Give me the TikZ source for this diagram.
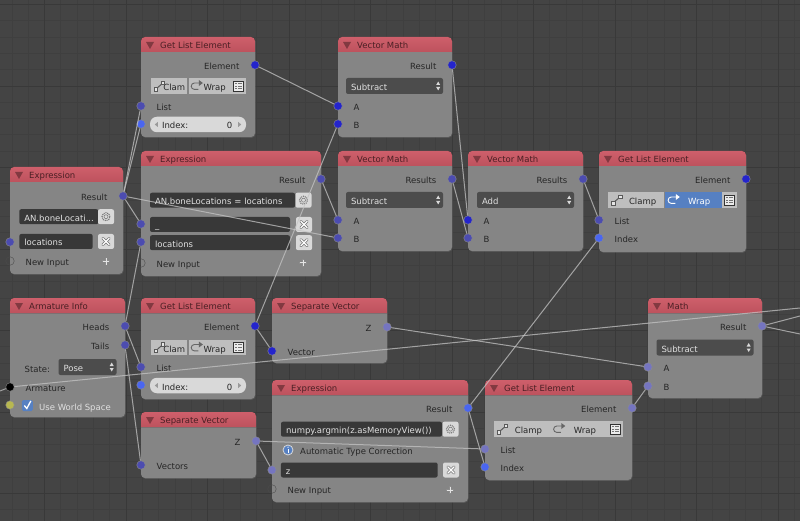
\documentclass[tikz,border=0pt]{standalone}
\usepackage{fontspec}
\setmainfont{DejaVu Sans}
\usepackage{tikz}
\usetikzlibrary{calc}
\usetikzlibrary{fit}
\usetikzlibrary{positioning}
\usetikzlibrary{shadows}

\definecolor{canvas}{HTML}{444444}
\definecolor{gridminor}{HTML}{3F3F3F}
\definecolor{gridmajor}{HTML}{393939}
\definecolor{panelgray}{HTML}{858585}
\definecolor{fieldgray}{HTML}{383838}
\definecolor{dropgray}{HTML}{4C4C4C}
\definecolor{btngray}{HTML}{BEBEBE}
\definecolor{btnlight}{HTML}{D9D9D9}
\definecolor{selblue}{HTML}{5680C2}
\definecolor{labeltext}{HTML}{262626}
\definecolor{lighttext}{HTML}{E0E0E0}
\definecolor{titletop}{HTML}{CE5F6B}
\definecolor{titlelow}{HTML}{BD525D}
\definecolor{titletext}{HTML}{4A1F24}
\definecolor{sockvec}{HTML}{2424CC}
\definecolor{sockdull}{HTML}{4C4CB0}
\definecolor{sockint}{HTML}{4A66F0}
\definecolor{sockfloat}{HTML}{7575C0}
\definecolor{sockbool}{HTML}{B8B850}
\definecolor{linkgray}{HTML}{C4C4C4}

\tikzset{
  smallfont/.style={font=\fontsize{8.5}{9}\selectfont},
  panel/.style={fit={#1},inner sep=0pt,fill=panelgray,rounded corners=4pt,
    drop shadow={opacity=0.35,shadow xshift=0.6pt,shadow yshift=-0.8pt}},
  titlebar/.style={top color=titletop,bottom color=titlelow,rounded corners=4pt},
  paneltitle/.style={smallfont,inner sep=0pt,text=titletext,anchor=west,text height=8pt,text depth=0.5pt},
  titlemark/.style={fill=titletext,opacity=0.55},
  socktext/.style={smallfont,inner sep=0pt,text=labeltext,text height=9pt,text depth=0pt},
  sock/.style={circle,inner sep=0pt,minimum size=8.5pt,draw=black!45,line width=0.4pt},
  vecsock/.style={sock,fill=sockvec},
  dullsock/.style={sock,fill=sockdull},
  intsock/.style={sock,fill=sockint},
  floatsock/.style={sock,fill=sockfloat},
  emptysock/.style={sock,draw=black!70,fill=none},
  blacksock/.style={sock,fill=black},
  boolsock/.style={sock,fill=sockbool},
  fieldbox/.style={smallfont,fill=fieldgray,text=lighttext,rounded corners=2pt,inner xsep=5pt,inner ysep=0pt,
    minimum height=15pt,text width=#1,align=left,text height=9pt,text depth=0pt},
  dropbox/.style={fieldbox=#1,fill=dropgray,minimum height=16pt},
  iconbtn/.style={fill=btnlight,rounded corners=2pt,inner sep=0pt,minimum width=16pt,minimum height=15pt},
  togglebtn/.style={smallfont,fill=btngray,text=labeltext,inner ysep=0pt,minimum height=15.5pt,align=right,
    text height=9pt,text depth=0pt},
  slider/.style={smallfont,fill=btnlight,text=labeltext,rounded corners=7pt,inner xsep=12pt,inner ysep=0pt,
    minimum height=15.5pt,text width=72pt,align=left,text height=9pt,text depth=0pt},
  link/.style={draw=linkgray,line width=1pt,opacity=0.75},
  gearicon/.pic={
    \draw[black!55,line width=1.1pt,dash pattern=on 1pt off 0.9pt] (0,0) circle (4pt);
    \draw[black!55,line width=0.5pt] (0,0) circle (2pt);
  },
  crossicon/.pic={
    \draw[black!55,line width=2.6pt,line cap=round] (-3.2,-3.2) -- (3.2,3.2) (-3.2,3.2) -- (3.2,-3.2);
    \draw[white,line width=1.3pt,line cap=round] (-3.2,-3.2) -- (3.2,3.2) (-3.2,3.2) -- (3.2,-3.2);
  },
  plusicon/.pic={
    \draw[black!45,line width=2pt] (-3.8,0) -- (3.8,0) (0,-3.8) -- (0,3.8);
    \draw[white!90!black,line width=1pt] (-3.4,0) -- (3.4,0) (0,-3.4) -- (0,3.4);
  },
  clampicon/.pic={
    \draw[black!65,line width=0.5pt,fill=white!90!black] (-5.5,1.5) rectangle (-2,5);
    \draw[black!65,line width=0.5pt,fill=white!90!black] (1.5,-5) rectangle (5,-1.5);
    \draw[black!65,line width=1pt] (-2,1.5) -- (1.5,-1.5);
  },
  wrapline/.pic={
    \draw[#1,line width=0.9pt] (3,-3) -- (-2,-3) arc (90:270:3.2pt) -- (2,3.4);
    \fill[#1] (2.5,-6) -- (6.5,-3) -- (2.5,0) -- cycle;
  },
  listicon/.pic={
    \draw[black!80,line width=0.6pt,fill=white!92!black] (-5,-5) rectangle (5,5);
    \foreach \row in {-2.8,0,2.8} {
      \draw[black!55,line width=0.8pt] (-3.5,\row) -- (-1.7,\row) (-0.5,\row) -- (3.5,\row);
    }
  },
  updown/.pic={
    \fill[white!85!black] (-2,-1) -- (2,-1) -- (0,-4.5) -- cycle;
    \fill[white!85!black] (-2,1) -- (2,1) -- (0,4.5) -- cycle;
  },
  spinleft/.pic={\fill[black!40] (5,0) -- (8,-2.5) -- (8,2.5) -- cycle;},
  spinright/.pic={\fill[black!40] (-5,0) -- (-8,-2.5) -- (-8,2.5) -- cycle;},
}

\begin{document}
\begin{tikzpicture}[x=1pt,y=-1pt,node distance=11pt]
  \useasboundingbox (0,0) rectangle (800,521);
  \fill[canvas] (0,0) rectangle (800,521);

  % grid
  \foreach \i in {0,...,48} {
    \draw[gridminor,line width=0.8pt] ({11.9+16.3*\i},0) -- ({11.9+16.3*\i},521);
  }
  \foreach \i in {0,...,31} {
    \draw[gridminor,line width=0.8pt] (0,{4.5+16.3*\i}) -- (800,{4.5+16.3*\i});
  }
  \foreach \i in {0,...,9} {
    \draw[gridmajor,line width=0.9pt] ({44.5+81.5*\i},0) -- ({44.5+81.5*\i},521);
  }
  \foreach \i in {0,...,6} {
    \draw[gridmajor,line width=0.9pt] (0,{4.5+81.5*\i}) -- (800,{4.5+81.5*\i});
  }

  % panels
  \foreach \nm/\xa/\ya/\xb/\yb/\ttl in {
    gleA/141/37/255/137/Get List Element,
    exprB/141/151/321/276/Expression,
    exprA/10/167/123/274/Expression,
    vmA/338/37/452/137/Vector Math,
    vmB/338/151/452/251/Vector Math,
    vmC/468/151/583/251/Vector Math,
    gleD/599/151/746/252/Get List Element,
    arm/10/298/125/417/Armature Info,
    gleB/141/298/255/399/Get List Element,
    sepA/272/298/387/363/Separate Vector,
    sepB/141/412/256/478/Separate Vector,
    exprC/272/380/468/502/Expression,
    gleC/485/380/632/480/Get List Element,
    mth/648/298/762/398/Math} {
    \node[panel={(\xa,\ya) (\xb,\yb)}] (\nm) {};
    \fill[titlebar] (\xa,\ya+15) -- (\xa,\ya) -- (\xb,\ya) -- (\xb,\ya+15);
    \fill[titlemark] (\xa+5,\ya+5) -- (\xa+13,\ya+5) -- (\xa+9,\ya+12) -- cycle;
    \node[paneltitle] (\nm-title) at (\xa+19,\ya+8) {\ttl};
  }

  % Get List Element, top
  \node[vecsock] (gleAe) at (255,65) {};
  \node[socktext,left=of gleAe] (gleAetxt) {Element};
  \node[togglebtn,text width=32pt,inner xsep=1.8pt] (gleAc) at (169.2,86) {Clam};
  \node[togglebtn,text width=36pt,inner xsep=3.2pt] (gleAw) at (209.8,86) {Wrap\hspace*{2pt}};
  \node[fill=btngray,inner sep=0pt,minimum width=15pt,minimum height=15.5pt] (gleAb) at (238.5,86) {};
  \pic at (gleAc.west) [xshift=8.5pt] {clampicon};
  \pic at (gleAw.west) [xshift=8pt] {wrapline=black!60};
  \pic at (gleAb) {listicon};
  \node[dullsock] (gleAl) at (141,106) {};
  \node[socktext,right=of gleAl] (gleAltxt) {List};
  \node[intsock] (gleAi) at (141,124) {};
  \node[slider] (gleAs) at (198,124.5) {Index:};
  \node[socktext] (gleAv) at (229.5,124.5) {0};
  \pic at (gleAs.west) {spinleft};
  \pic at (gleAs.east) {spinright};

  % Expression, large
  \node[dullsock] (exprBr) at (321,179) {};
  \node[socktext,left=of exprBr] (exprBrtxt) {Result};
  \node[fieldbox=135pt] (exprBf) at (222.5,200.2) {AN.boneLocations = locations};
  \node[iconbtn] (exprBg) at (303.5,200.2) {};
  \pic at (exprBg) {gearicon};
  \node[dullsock] (exprBu) at (141,224) {};
  \node[fieldbox=130pt] (exprBa) at (220,224.5) {\_};
  \node[iconbtn] (exprBx) at (304,224.5) {};
  \pic at (exprBx) {crossicon};
  \node[dullsock] (exprBl) at (141,242) {};
  \node[fieldbox=130pt] (exprBb) at (220,242.7) {locations};
  \node[iconbtn] (exprBy) at (304,242.7) {};
  \pic at (exprBy) {crossicon};
  \node[emptysock] (exprBn) at (141,263) {};
  \node[socktext,right=of exprBn] (exprBntxt) {New Input};
  \node[inner sep=0pt,minimum size=8pt] (exprBp) at (303,263) {};
  \pic at (exprBp) {plusicon};

  % Expression, left
  \node[dullsock] (exprAr) at (123,196) {};
  \node[socktext,left=of exprAr] (exprArtxt) {Result};
  \node[fieldbox=69pt] (exprAf) at (58.8,216.7) {AN.boneLocati...};
  \node[iconbtn] (exprAg) at (106,216.7) {};
  \pic at (exprAg) {gearicon};
  \node[dullsock] (exprAl) at (10,242) {};
  \node[fieldbox=63.4pt] (exprAb) at (56,241.5) {locations};
  \node[iconbtn] (exprAy) at (106,241.5) {};
  \pic at (exprAy) {crossicon};
  \node[emptysock] (exprAn) at (10,261) {};
  \node[socktext,right=of exprAn] (exprAntxt) {New Input};
  \node[inner sep=0pt,minimum size=8pt] (exprAp) at (106,261.5) {};
  \pic at (exprAp) {plusicon};

  % Vector Math
  \node[vecsock] (vmAr) at (452,65) {};
  \node[socktext,left=of vmAr] (vmArtxt) {Result};
  \node[dropbox=87pt] (vmAo) at (394.5,86) {Subtract};
  \pic at (vmAo.east) [xshift=-5pt] {updown};
  \node[vecsock] (vmAa) at (338,106) {};
  \node[socktext,right=of vmAa] (vmAatxt) {A};
  \node[vecsock] (vmAb) at (338,124) {};
  \node[socktext,right=of vmAb] (vmAbtxt) {B};

  \node[dullsock] (vmBr) at (452,179) {};
  \node[socktext,left=of vmBr] (vmBrtxt) {Results};
  \node[dropbox=87pt] (vmBo) at (394.5,200) {Subtract};
  \pic at (vmBo.east) [xshift=-5pt] {updown};
  \node[dullsock] (vmBa) at (338,220) {};
  \node[socktext,right=of vmBa] (vmBatxt) {A};
  \node[dullsock] (vmBb) at (338,238) {};
  \node[socktext,right=of vmBb] (vmBbtxt) {B};

  \node[dullsock] (vmCr) at (583,179) {};
  \node[socktext,left=of vmCr] (vmCrtxt) {Results};
  \node[dropbox=87pt] (vmCo) at (525.5,200) {Add};
  \pic at (vmCo.east) [xshift=-5pt] {updown};
  \node[vecsock] (vmCa) at (468,220) {};
  \node[socktext,right=of vmCa] (vmCatxt) {A};
  \node[dullsock] (vmCb) at (468,238) {};
  \node[socktext,right=of vmCb] (vmCbtxt) {B};

  % Get List Element, right
  \node[vecsock] (gleDe) at (746,179) {};
  \node[socktext,left=of gleDe] (gleDetxt) {Element};
  \node[togglebtn,text width=48pt,inner xsep=4.2pt] (gleDc) at (636.2,200) {Clamp\hspace*{4pt}};
  \node[togglebtn,fill=selblue,text=white,text width=48pt,inner xsep=4.7pt] (gleDw) at (693.2,200) {Wrap\hspace*{7pt}};
  \node[fill=btngray,inner sep=0pt,minimum width=15pt,minimum height=15.5pt] (gleDb) at (729.5,200) {};
  \pic at (gleDc.west) [xshift=9pt] {clampicon};
  \pic at (gleDw.west) [xshift=9pt] {wrapline=white};
  \pic at (gleDb) {listicon};
  \node[dullsock] (gleDl) at (599,220) {};
  \node[socktext,right=of gleDl] (gleDltxt) {List};
  \node[intsock] (gleDi) at (599,238) {};
  \node[socktext,right=of gleDi] (gleDitxt) {Index};

  % Armature Info
  \node[dullsock] (armh) at (125,326) {};
  \node[socktext,left=of armh] (armhtxt) {Heads};
  \node[dullsock] (armt) at (125,345) {};
  \node[socktext,left=of armt] (armttxt) {Tails};
  \node[socktext,anchor=west] (armstxt) at (24.5,368) {State:};
  \node[dropbox=48pt] (armo) at (87.5,367) {Pose};
  \pic at (armo.east) [xshift=-5pt] {updown};
  \node[blacksock] (arma) at (10,387) {};
  \node[socktext,right=of arma] (armatxt) {Armature};
  \node[boolsock] (armw) at (10,405) {};
  \node[fill=selblue,rounded corners=1.5pt,inner sep=0pt,minimum size=11pt] (armc) at (27.3,405.5) {};
  \draw[white,line width=1.3pt] ($(armc)+(-3,0)$) -- ($(armc)+(-0.5,3)$) -- ($(armc)+(3.5,-4.5)$);
  \node[socktext,text=lighttext,anchor=west] (armwtxt) at (39,406) {Use World Space};

  % Get List Element, middle
  \node[vecsock] (gleBe) at (255,326) {};
  \node[socktext,left=of gleBe] (gleBetxt) {Element};
  \node[togglebtn,text width=32pt,inner xsep=1.8pt] (gleBc) at (169.2,347.5) {Clam};
  \node[togglebtn,text width=36pt,inner xsep=3.2pt] (gleBw) at (209.8,347.5) {Wrap\hspace*{2pt}};
  \node[fill=btngray,inner sep=0pt,minimum width=15pt,minimum height=15.5pt] (gleBb) at (238.5,347.5) {};
  \pic at (gleBc.west) [xshift=8.5pt] {clampicon};
  \pic at (gleBw.west) [xshift=8pt] {wrapline=black!60};
  \pic at (gleBb) {listicon};
  \node[dullsock] (gleBl) at (141,367) {};
  \node[socktext,right=of gleBl] (gleBltxt) {List};
  \node[intsock] (gleBi) at (141,385) {};
  \node[slider] (gleBs) at (198,385.5) {Index:};
  \node[socktext] (gleBv) at (229.5,385.5) {0};
  \pic at (gleBs.west) {spinleft};
  \pic at (gleBs.east) {spinright};

  % Separate Vector
  \node[floatsock] (sepAz) at (387,327) {};
  \node[socktext,left=of sepAz] (sepAztxt) {Z};
  \node[vecsock] (sepAv) at (272,351) {};
  \node[socktext,right=of sepAv] (sepAvtxt) {Vector};
  \node[floatsock] (sepBz) at (256,441) {};
  \node[socktext,left=of sepBz] (sepBztxt) {Z};
  \node[dullsock] (sepBv) at (141,465) {};
  \node[socktext,right=of sepBv] (sepBvtxt) {Vectors};

  % Expression, bottom
  \node[intsock] (exprCr) at (468,408) {};
  \node[socktext,left=of exprCr] (exprCrtxt) {Result};
  \node[fieldbox=151pt] (exprCf) at (361.5,429.2) {numpy.argmin(z.asMemoryView())};
  \node[iconbtn] (exprCg) at (450.5,429.2) {};
  \pic at (exprCg) {gearicon};
  \node[circle,fill=selblue,draw=white!85!black,line width=0.8pt,inner sep=0pt,minimum size=10pt] (exprCi) at (288,450) {};
  \draw[white,line width=1pt] ($(exprCi)+(0,-1.2)$) -- ($(exprCi)+(0,2.8)$);
  \fill[white] ($(exprCi)+(0,-2.8)$) circle (0.7pt);
  \node[socktext,anchor=west] (exprCitxt) at (300,450) {Automatic Type Correction};
  \node[floatsock] (exprCz) at (272,470) {};
  \node[fieldbox=146.7pt] (exprCb) at (359.3,470) {z};
  \node[iconbtn] (exprCy) at (451,470) {};
  \pic at (exprCy) {crossicon};
  \node[emptysock] (exprCn) at (272,489) {};
  \node[socktext,right=of exprCn] (exprCntxt) {New Input};
  \node[inner sep=0pt,minimum size=8pt] (exprCp) at (450,490) {};
  \pic at (exprCp) {plusicon};

  % Get List Element, bottom
  \node[floatsock] (gleCe) at (632,408) {};
  \node[socktext,left=of gleCe] (gleCetxt) {Element};
  \node[togglebtn,text width=48pt,inner xsep=4.2pt] (gleCc) at (522,429) {Clamp\hspace*{4pt}};
  \node[togglebtn,text width=48pt,inner xsep=5pt] (gleCw) at (579,429) {Wrap\hspace*{7pt}};
  \node[fill=btngray,inner sep=0pt,minimum width=15pt,minimum height=15.5pt] (gleCb) at (615.5,429) {};
  \pic at (gleCc.west) [xshift=9pt] {clampicon};
  \pic at (gleCw.west) [xshift=9pt] {wrapline=black!60};
  \pic at (gleCb) {listicon};
  \node[floatsock] (gleCl) at (485,449) {};
  \node[socktext,right=of gleCl] (gleCltxt) {List};
  \node[intsock] (gleCi) at (485,467) {};
  \node[socktext,right=of gleCi] (gleCitxt) {Index};

  % Math
  \node[floatsock] (mthr) at (762,326) {};
  \node[socktext,left=of mthr] (mthrtxt) {Result};
  \node[dropbox=87pt] (mtho) at (705,347.5) {Subtract};
  \pic at (mtho.east) [xshift=-5pt] {updown};
  \node[floatsock] (mtha) at (648,367) {};
  \node[socktext,right=of mtha] (mthatxt) {A};
  \node[floatsock] (mthb) at (648,386) {};
  \node[socktext,right=of mthb] (mthbtxt) {B};

  % links leaving the view
  \coordinate (offleft) at (0,391);
  \coordinate (offtop) at (800,308);
  \coordinate (offmid) at (800,316);
  \coordinate (offlow) at (800,334);

  % links
  \draw[link] (exprAr) -- (gleAl);
  \draw[link] (exprAr) -- (gleAi);
  \draw[link] (exprAr) -- (exprBu);
  \draw[link] (exprAr) -- (vmBb);
  \draw[link] (armh) -- (exprBl);
  \draw[link] (armh) -- (gleBl);
  \draw[link] (armt) -- (sepBv);
  \draw[link] (gleAe) -- (vmAa);
  \draw[link] (gleBe) -- (vmAb);
  \draw[link] (gleBe) -- (sepAv);
  \draw[link] (exprBr) -- (vmBa);
  \draw[link] (vmAr) -- (vmCa);
  \draw[link] (vmBr) -- (vmCb);
  \draw[link] (vmCr) -- (gleDl);
  \draw[link] (exprCr) -- (gleDi);
  \draw[link] (exprCr) -- (gleCi);
  \draw[link] (sepBz) -- (exprCz);
  \draw[link] (sepBz) -- (gleCl);
  \draw[link] (sepAz) -- (mtha);
  \draw[link] (gleCe) -- (mthb);
  \draw[link] (mthr) -- (offmid);
  \draw[link] (mthr) -- (offlow);
  \draw[link] (arma) -- (offleft);
  \draw[link] (arma) -- (offtop);
\end{tikzpicture}
\end{document}
